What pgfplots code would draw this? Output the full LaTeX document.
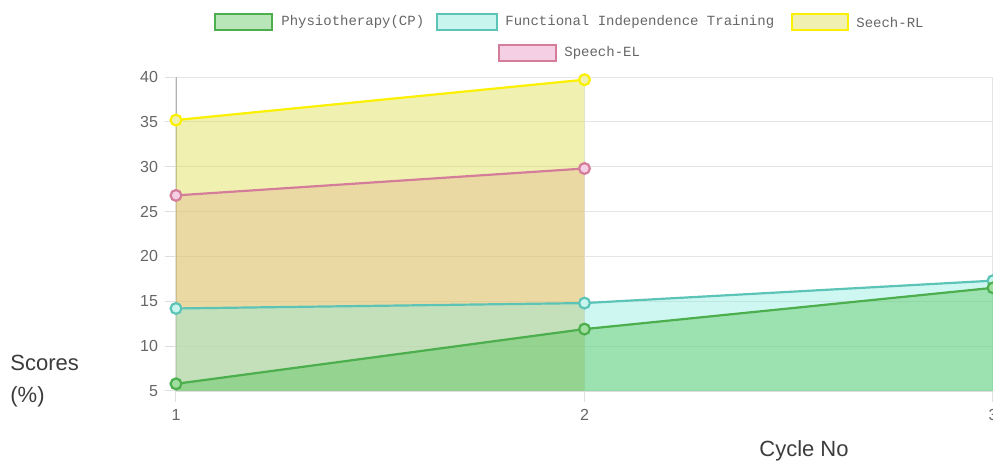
\documentclass[border=0pt]{standalone}
\usepackage{fontspec}
\setmainfont{Liberation Sans}
\setmonofont{Liberation Mono}
\usepackage{pgfplots}
\pgfplotsset{compat=1.18}
\definecolor{phLine}{RGB}{76,174,76}
\definecolor{phFill}{RGB}{80,195,80}
\definecolor{phLeg}{RGB}{184,230,184}
\definecolor{fiLine}{RGB}{92,196,182}
\definecolor{fiFill}{RGB}{135,235,222}
\definecolor{fiLeg}{RGB}{200,245,238}
\definecolor{rlLine}{RGB}{250,240,0}
\definecolor{rlFill}{RGB}{218,218,58}
\definecolor{rlLeg}{RGB}{240,240,176}
\definecolor{elLine}{RGB}{212,125,155}
\definecolor{elFill}{RGB}{236,160,200}
\definecolor{elLeg}{RGB}{245,208,229}
\definecolor{txt}{RGB}{102,102,102}
\definecolor{lbl}{RGB}{60,60,60}
\begin{document}
\begin{tikzpicture}
\begin{axis}[
  at={(0,0)}, anchor=south west,
  scale only axis, width=408.5pt, height=157pt,
  xmin=1, xmax=3, ymin=5, ymax=40,
  xtick={1,2,3}, ytick={5,10,...,40},
  grid=major, major grid style={color=gray!20, line width=0.5pt},
  axis x line*=bottom, axis y line*=left,
  x axis line style={-, color=gray!25},
  y axis line style={-, color=gray!60},
  tick align=outside, major tick length=5.5pt,
  tick style={color=gray!25, line width=0.5pt},
  ticklabel style={font=\fontsize{8}{9}\selectfont, text=txt},
  /pgf/number format/assume math mode=true,
  clip mode=individual,
  every axis plot/.append style={line width=1.1pt},
  mk/.style={mark=*, mark size=2.7pt, mark options={line width=1.1pt, fill=#1}},
]
% fills (all drawn before the lines)
\addplot[draw=none, fill=elFill, fill opacity=0.4, forget plot] coordinates {(1,26.8) (2,29.8)} \closedcycle;
\addplot[draw=none, fill=rlFill, fill opacity=0.4, forget plot] coordinates {(1,35.2) (2,39.7)} \closedcycle;
\addplot[draw=none, fill=fiFill, fill opacity=0.4, forget plot] coordinates {(1,14.2) (2,14.8) (3,17.3)} \closedcycle;
\addplot[draw=none, fill=phFill, fill opacity=0.4, forget plot] coordinates {(1,5.8) (2,11.9) (3,16.5)} \closedcycle;
% lines
\addplot[elLine, mk=elLeg] coordinates {(1,26.8) (2,29.8)};
\addplot[rlLine, mk=rlLeg] coordinates {(1,35.2) (2,39.7)};
\addplot[fiLine, mk=fiLeg] coordinates {(1,14.2) (2,14.8) (3,17.3)};
\addplot[phLine, mk=phFill!55!white] coordinates {(1,5.8) (2,11.9) (3,16.5)};
\end{axis}
% legend
\tikzset{legtxt/.style={anchor=west, inner sep=0pt, font=\ttfamily\fontsize{7}{8}\selectfont, text=txt}}
\draw[draw=phLine, fill=phLeg, line width=1pt] (19.5pt,180.3pt) rectangle (48pt,188.7pt);
\node[legtxt] at (52.5pt,184.5pt) {Physiotherapy(CP)};
\draw[draw=fiLine, fill=fiLeg, line width=1pt] (130.5pt,180.3pt) rectangle (160.5pt,188.7pt);
\node[legtxt] at (164.5pt,184.5pt) {Functional Independence Training};
\draw[draw=rlLine, fill=rlLeg, line width=1pt] (308pt,180.3pt) rectangle (336pt,188.7pt);
\node[legtxt] at (340pt,184.5pt) {Seech-RL};
\draw[draw=elLine, fill=elLeg, line width=1pt] (161.5pt,164.8pt) rectangle (190pt,173.2pt);
\node[legtxt] at (194pt,169pt) {Speech-EL};
% axis labels
\node[anchor=west, inner sep=0pt, font=\fontsize{11}{13}\selectfont, text=lbl] at (-83pt,14pt) {Scores};
\node[anchor=west, inner sep=0pt, font=\fontsize{11}{13}\selectfont, text=lbl] at (-83pt,-3pt) {(\%)};
\node[inner sep=0pt, font=\fontsize{11}{13}\selectfont, text=lbl] at (314pt,-30pt) {Cycle No};
\pgfresetboundingbox
\useasboundingbox (-88pt,-35pt) rectangle (408.5pt,195.5pt);
\end{tikzpicture}
\end{document}
